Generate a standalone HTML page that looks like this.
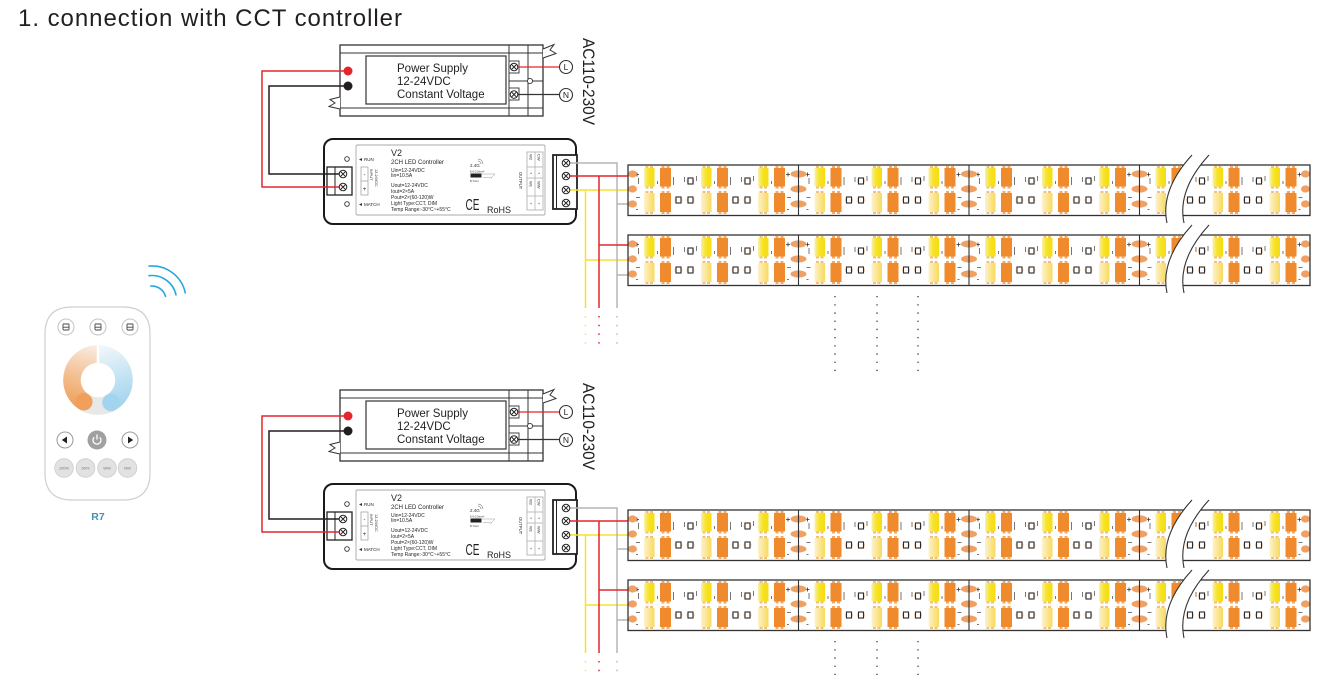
<!DOCTYPE html>
<html><head><meta charset="utf-8">
<style>
html,body{margin:0;padding:0;background:#fff;width:1325px;height:676px;overflow:hidden;}
svg{display:block;}
text{font-family:"Liberation Sans",Arial,sans-serif;}
</style></head><body>
<svg width="1325" height="676" viewBox="0 0 1325 676" xmlns="http://www.w3.org/2000/svg" overflow="hidden">
<defs>
 <linearGradient id="yT" x1="0" y1="0" x2="1" y2="0"><stop offset="0" stop-color="#faf0a8"/><stop offset="0.45" stop-color="#f7e326"/><stop offset="1" stop-color="#f5dc12"/></linearGradient>
 <linearGradient id="yB" x1="0" y1="0" x2="1" y2="0"><stop offset="0" stop-color="#fdf2cc"/><stop offset="1" stop-color="#f8da5c"/></linearGradient>
 <linearGradient id="og" gradientUnits="userSpaceOnUse" x1="98" y1="346" x2="80" y2="408"><stop offset="0" stop-color="#f9ede4"/><stop offset="0.5" stop-color="#f3c398"/><stop offset="1" stop-color="#f0a05c"/></linearGradient>
 <linearGradient id="bg" gradientUnits="userSpaceOnUse" x1="98" y1="346" x2="115" y2="408"><stop offset="0" stop-color="#f3f7fa"/><stop offset="0.5" stop-color="#c8e5f4"/><stop offset="1" stop-color="#a2d4ee"/></linearGradient>

 <g id="screw"><circle r="3.8" fill="#fff" stroke="#222" stroke-width="1"/><path d="M-2.5,-2.5 L2.5,2.5 M2.5,-2.5 L-2.5,2.5" stroke="#222" stroke-width="0.9"/></g>

 <g id="pair">
  <g fill="#f1c07a">
   <rect x="1.5" y="1" width="3" height="2.5"/><rect x="6" y="1" width="3" height="2.5"/>
   <rect x="1.5" y="21" width="3" height="2.5"/><rect x="6" y="21" width="3" height="2.5"/>
   <rect x="1.5" y="26" width="3" height="2.5"/><rect x="6" y="26" width="3" height="2.5"/>
   <rect x="1.5" y="46.5" width="3" height="2.5"/><rect x="6" y="46.5" width="3" height="2.5"/>
  </g>
  <g fill="#f3aa66">
   <rect x="17.5" y="1" width="3" height="2.5"/><rect x="22.5" y="1" width="3" height="2.5"/>
   <rect x="17.5" y="21" width="3" height="2.5"/><rect x="22.5" y="21" width="3" height="2.5"/>
   <rect x="17.5" y="26" width="3" height="2.5"/><rect x="22.5" y="26" width="3" height="2.5"/>
   <rect x="17.5" y="46.5" width="3" height="2.5"/><rect x="22.5" y="46.5" width="3" height="2.5"/>
  </g>
  <rect x="0" y="3" width="10.5" height="18.5" fill="url(#yT)"/>
  <rect x="0" y="28" width="10.5" height="19" fill="url(#yB)"/>
  <rect x="16" y="3" width="11" height="18.5" fill="#ef8a2d"/>
  <rect x="16" y="28" width="11" height="19" fill="#ef8a2d"/>
 </g>

 <g id="res"><ellipse cx="2.5" cy="3" rx="4" ry="3.6" fill="#f6c9a2"/><rect x="0" y="0" width="5" height="6" fill="#fff" stroke="#2a2a2a" stroke-width="1.1"/></g>

 <g id="seg">
  <use href="#pair" x="16"/><use href="#pair" x="73"/><use href="#pair" x="130"/>
  <use href="#res" x="60" y="13"/><use href="#res" x="117" y="13"/>
  <use href="#res" x="48" y="32"/><use href="#res" x="60" y="32"/>
  <use href="#res" x="105" y="32"/><use href="#res" x="117" y="32"/>
  <path d="M7,9.5h4M9,7.5v4M158,9.5h4M160,7.5v4" stroke="#333" stroke-width="0.8"/>
  <g fill="#777">
   <rect x="10" y="13" width="1" height="6"/><rect x="29" y="16" width="1" height="3"/><rect x="45" y="12" width="1" height="8"/>
   <rect x="56" y="12" width="1" height="5"/><rect x="68" y="11" width="1" height="5"/>
   <rect x="86" y="16" width="1" height="3"/><rect x="102" y="12" width="1" height="8"/>
   <rect x="113" y="12" width="1" height="5"/><rect x="125" y="11" width="1" height="5"/>
   <rect x="143" y="16" width="1" height="3"/>
   <rect x="8" y="32" width="4" height="1"/><rect x="8" y="44" width="2" height="1"/>
   <rect x="159" y="32" width="4" height="1"/><rect x="159" y="44" width="2" height="1"/>
  </g>
 </g>

 <g id="strip">
  <rect x="628" y="0" width="682" height="50.5" fill="#fff"/>
  <use href="#seg" x="628"/><use href="#seg" x="798.5"/><use href="#seg" x="969"/><use href="#seg" x="1139.5"/>
  <g fill="#efa062">
   <ellipse cx="798.5" cy="9" rx="8" ry="3.6"/><ellipse cx="798.5" cy="24" rx="8" ry="3.6"/><ellipse cx="798.5" cy="39" rx="8" ry="3.6"/>
   <ellipse cx="969" cy="9" rx="8" ry="3.6"/><ellipse cx="969" cy="24" rx="8" ry="3.6"/><ellipse cx="969" cy="39" rx="8" ry="3.6"/>
   <ellipse cx="1139.5" cy="9" rx="8" ry="3.6"/><ellipse cx="1139.5" cy="24" rx="8" ry="3.6"/><ellipse cx="1139.5" cy="39" rx="8" ry="3.6"/>
   <ellipse cx="632.5" cy="9" rx="4.5" ry="3.6"/><ellipse cx="632.5" cy="24" rx="4.5" ry="3.6"/><ellipse cx="632.5" cy="39" rx="4.5" ry="3.6"/>
   <ellipse cx="1305.5" cy="9" rx="4.5" ry="3.6"/><ellipse cx="1305.5" cy="24" rx="4.5" ry="3.6"/><ellipse cx="1305.5" cy="39" rx="4.5" ry="3.6"/>
  </g>
  <path d="M798.5,0V50.5M969,0V50.5M1139.5,0V50.5" stroke="#333" stroke-width="1.1"/>
  <rect x="628" y="0" width="682" height="50.5" fill="none" stroke="#333" stroke-width="1.3"/>
  <path d="M1192,-10 Q1160,25 1167,58 L1184,58 Q1177,25 1209,-10 Z" fill="#fff"/>
  <path d="M1192,-10 Q1160,25 1167,58 M1209,-10 Q1177,25 1184,58" fill="none" stroke="#333" stroke-width="1.1"/>
 </g>

 <g id="secShapes">
  <!-- Power supply -->
  <rect x="340" y="45" width="203" height="71" fill="#fff" stroke="#333" stroke-width="1.3"/>
  <path d="M340,53 H543 M340,108 H543 M509,45 V116 M528,45 V116 M509,81 H543" stroke="#333" stroke-width="1" fill="none"/>
  <rect x="366" y="56" width="140" height="48" fill="#fff" stroke="#333" stroke-width="1.2"/>
  <path d="M543,49 L554,44.5 L550,50 L556,53.5 L543,58" stroke="#333" stroke-width="1" fill="#fff"/>
  <path d="M340,97 L330,99.5 L335,103 L329,106.5 L340,109" stroke="#333" stroke-width="1" fill="#fff"/>
  <circle cx="348" cy="71" r="4.5" fill="#e3262e"/>
  <circle cx="348" cy="86" r="4.5" fill="#231f20"/>
  <circle cx="530" cy="81" r="2.6" fill="#fff" stroke="#333" stroke-width="0.9"/>
  <rect x="509" y="61" width="10" height="12" fill="#fff" stroke="#333" stroke-width="0.9"/>
  <rect x="509" y="88" width="10" height="12" fill="#fff" stroke="#333" stroke-width="0.9"/>
  <path d="M518,67 H559.5" stroke="#e3262e" stroke-width="1.3"/>
  <path d="M518,94.5 H559.5" stroke="#333" stroke-width="1.3"/>
  <use href="#screw" x="514" y="67"/>
  <use href="#screw" x="514" y="94.5"/>
  <circle cx="566" cy="67" r="6.5" fill="#fff" stroke="#333" stroke-width="1.1"/>
  <circle cx="566" cy="95" r="6.5" fill="#fff" stroke="#333" stroke-width="1.1"/>

  <!-- Controller -->
  <rect x="324" y="139" width="252" height="85" rx="9" fill="#fff" stroke="#1a1a1a" stroke-width="2"/>
  <rect x="356" y="145" width="189" height="70" rx="1.5" fill="#fff" stroke="#aaa" stroke-width="0.9"/>
  <rect x="327" y="167" width="25" height="28" fill="#fff" stroke="#222" stroke-width="1.3"/>
  <line x1="335" y1="167" x2="335" y2="195" stroke="#222" stroke-width="1"/>
  <circle cx="347" cy="159" r="2.3" fill="#fff" stroke="#333" stroke-width="0.9"/>
  <circle cx="347" cy="204" r="2.3" fill="#fff" stroke="#333" stroke-width="0.9"/>
  <path d="M359,159.5 L362,158 V161 Z M359,204.5 L362,203 V206 Z" fill="#333"/>
  <rect x="361" y="167" width="7" height="28" fill="#fff" stroke="#999" stroke-width="0.7"/>
  <line x1="361" y1="181" x2="368" y2="181" stroke="#999" stroke-width="0.7"/>
  <rect x="527" y="152" width="16" height="58" fill="#fff" stroke="#aaa" stroke-width="0.8"/>
  <path d="M535,152V210 M527,167H543 M527,178H543 M527,196H543" stroke="#aaa" stroke-width="0.7"/>
  <rect x="470.5" y="173.5" width="11" height="4" fill="#222"/>
  <path d="M482,174 L495,174 L491,178 M483,177.5 L492,178" stroke="#999" stroke-width="0.5" fill="none"/>
  <path d="M478,161 a3,3 0 0 1 3,3 M478,159 a5,5 0 0 1 5,5" stroke="#555" stroke-width="0.5" fill="none"/>
  <rect x="553" y="155" width="24" height="54" fill="#fff" stroke="#222" stroke-width="1.8"/>
  <line x1="556.5" y1="155" x2="556.5" y2="209" stroke="#222" stroke-width="1"/>

  <!-- wires PS to controller -->
  <path d="M348,71 H262 V187 H339" fill="none" stroke="#e3262e" stroke-width="1.5"/>
  <path d="M348,86 H269 V174 H339" fill="none" stroke="#231f20" stroke-width="1.5"/>
  <use href="#screw" x="343" y="174"/>
  <use href="#screw" x="343" y="187"/>

  <!-- output wires -->
  <path d="M570,190 H628 M585.5,190 V308 M585.5,260 H628" fill="none" stroke="#f5e22a" stroke-width="1.5"/>
  <path d="M570,163 H617 V308 M617,204 H628 M617,275 H628" fill="none" stroke="#b5b5b5" stroke-width="1.5"/>
  <path d="M570,176 H628 M599,176 V308 M599,245 H628" fill="none" stroke="#e3262e" stroke-width="1.5"/>
  <use href="#screw" x="566" y="163"/>
  <use href="#screw" x="566" y="176"/>
  <use href="#screw" x="566" y="190"/>
  <use href="#screw" x="566" y="203"/>

  <!-- strips -->
  <use href="#strip" y="165"/>
  <use href="#strip" y="235"/>
 </g>
</defs>

<rect x="0" y="0" width="1325" height="676" fill="#fff"/>

<!-- Title -->
<text x="18" y="26" font-size="24" textLength="384" lengthAdjust="spacing" fill="#231f20">1. connection with CCT controller</text>

<!-- Sections -->
<use href="#secShapes"/>
<use href="#secShapes" y="345"/>

<!-- wire end dots + dotted continuation (top) -->
<line x1="585.5" y1="316" x2="585.5" y2="345" stroke="#f3e06a" stroke-width="1.5" stroke-dasharray="1.5 7.2"/>
<line x1="599" y1="316" x2="599" y2="345" stroke="#e3262e" stroke-width="1.5" stroke-dasharray="1.5 7.2"/>
<line x1="617" y1="316" x2="617" y2="345" stroke="#bbb" stroke-width="1.5" stroke-dasharray="1.5 7.2"/>
<g stroke="#444" stroke-width="1.4" stroke-dasharray="1.3 6.9">
 <line x1="835" y1="296" x2="835" y2="372"/>
 <line x1="877" y1="296" x2="877" y2="372"/>
 <line x1="918" y1="296" x2="918" y2="372"/>
</g>
<!-- wire end dots + dotted continuation (bottom) -->
<line x1="585.5" y1="661" x2="585.5" y2="675" stroke="#f3e06a" stroke-width="1.5" stroke-dasharray="1.5 7.2"/>
<line x1="599" y1="661" x2="599" y2="675" stroke="#e3262e" stroke-width="1.5" stroke-dasharray="1.5 7.2"/>
<line x1="617" y1="661" x2="617" y2="675" stroke="#bbb" stroke-width="1.5" stroke-dasharray="1.5 7.2"/>
<g stroke="#444" stroke-width="1.4" stroke-dasharray="1.3 6.9">
 <line x1="835" y1="641" x2="835" y2="675"/>
 <line x1="877" y1="641" x2="877" y2="675"/>
 <line x1="918" y1="641" x2="918" y2="675"/>
</g>

<!-- Section texts (top) -->
<g fill="#231f20">
 <text x="397" y="72" font-size="11.5">Power Supply</text>
 <text x="397" y="85" font-size="11.5">12-24VDC</text>
 <text x="397" y="98" font-size="11.5">Constant Voltage</text>
 <text x="566" y="70.2" font-size="8.5" text-anchor="middle">L</text>
 <text x="566" y="98.2" font-size="8.5" text-anchor="middle">N</text>
 <text transform="translate(583,38) rotate(90)" font-size="16.5" textLength="87" lengthAdjust="spacingAndGlyphs">AC110-230V</text>
 <text x="364" y="161" font-size="4.5">RUN</text>
 <text x="364" y="206" font-size="4.5">MATCH</text>
 <text x="364.5" y="176.5" font-size="6" text-anchor="middle">-</text>
 <text x="364.5" y="191" font-size="6" text-anchor="middle">+</text>
 <text transform="translate(370,169) rotate(90)" font-size="3.8">INPUT</text>
 <text transform="translate(375,169) rotate(90)" font-size="3.8">12-24VDC</text>
 <text x="391" y="156" font-size="9">V2</text>
 <text x="391" y="164" font-size="6">2CH LED Controller</text>
 <g font-size="5">
  <text x="391" y="172">Uin=12-24VDC</text>
  <text x="391" y="177">Iin=10.5A</text>
  <text x="391" y="187">Uout=12-24VDC</text>
  <text x="391" y="193">Iout=2×5A</text>
  <text x="391" y="199">Pout=2×(60-120)W</text>
  <text x="391" y="205">Light Type:CCT, DIM</text>
  <text x="391" y="211">Temp Range:-30°C~+55°C</text>
 </g>
 <text x="470" y="167" font-size="4.5">2.4G</text>
 <text x="470" y="172.5" font-size="2.8">6.0-2.5mm²</text>
 <text x="470" y="182" font-size="2.8">8-7mm</text>
 <text x="465.5" y="210" font-size="16" textLength="14" lengthAdjust="spacingAndGlyphs">CE</text>
 <text x="487" y="213" font-size="9">RoHS</text>
 <text transform="translate(519,172) rotate(90)" font-size="4.2">OUTPUT</text>
 <g font-size="4">
  <text transform="translate(529.5,154) rotate(90)">W2</text>
  <text transform="translate(537.5,154) rotate(90)">CW</text>
  <text x="531" y="174.5" text-anchor="middle">+</text>
  <text x="539" y="174.5" text-anchor="middle">+</text>
  <text transform="translate(529.5,181) rotate(90)">W1</text>
  <text transform="translate(537.5,181) rotate(90)">WW</text>
  <text x="531" y="205" text-anchor="middle">+</text>
  <text x="539" y="205" text-anchor="middle">+</text>
 </g>
</g>

<!-- Section texts (bottom) -->
<g fill="#231f20" transform="translate(0,345)">
 <text x="397" y="72" font-size="11.5">Power Supply</text>
 <text x="397" y="85" font-size="11.5">12-24VDC</text>
 <text x="397" y="98" font-size="11.5">Constant Voltage</text>
 <text x="566" y="70.2" font-size="8.5" text-anchor="middle">L</text>
 <text x="566" y="98.2" font-size="8.5" text-anchor="middle">N</text>
 <text transform="translate(583,38) rotate(90)" font-size="16.5" textLength="87" lengthAdjust="spacingAndGlyphs">AC110-230V</text>
 <text x="364" y="161" font-size="4.5">RUN</text>
 <text x="364" y="206" font-size="4.5">MATCH</text>
 <text x="364.5" y="176.5" font-size="6" text-anchor="middle">-</text>
 <text x="364.5" y="191" font-size="6" text-anchor="middle">+</text>
 <text transform="translate(370,169) rotate(90)" font-size="3.8">INPUT</text>
 <text transform="translate(375,169) rotate(90)" font-size="3.8">12-24VDC</text>
 <text x="391" y="156" font-size="9">V2</text>
 <text x="391" y="164" font-size="6">2CH LED Controller</text>
 <g font-size="5">
  <text x="391" y="172">Uin=12-24VDC</text>
  <text x="391" y="177">Iin=10.5A</text>
  <text x="391" y="187">Uout=12-24VDC</text>
  <text x="391" y="193">Iout=2×5A</text>
  <text x="391" y="199">Pout=2×(60-120)W</text>
  <text x="391" y="205">Light Type:CCT, DIM</text>
  <text x="391" y="211">Temp Range:-30°C~+55°C</text>
 </g>
 <text x="470" y="167" font-size="4.5">2.4G</text>
 <text x="470" y="172.5" font-size="2.8">6.0-2.5mm²</text>
 <text x="470" y="182" font-size="2.8">8-7mm</text>
 <text x="465.5" y="210" font-size="16" textLength="14" lengthAdjust="spacingAndGlyphs">CE</text>
 <text x="487" y="213" font-size="9">RoHS</text>
 <text transform="translate(519,172) rotate(90)" font-size="4.2">OUTPUT</text>
 <g font-size="4">
  <text transform="translate(529.5,154) rotate(90)">W2</text>
  <text transform="translate(537.5,154) rotate(90)">CW</text>
  <text x="531" y="174.5" text-anchor="middle">+</text>
  <text x="539" y="174.5" text-anchor="middle">+</text>
  <text transform="translate(529.5,181) rotate(90)">W1</text>
  <text transform="translate(537.5,181) rotate(90)">WW</text>
  <text x="531" y="205" text-anchor="middle">+</text>
  <text x="539" y="205" text-anchor="middle">+</text>
 </g>
</g>

<!-- Remote R7 -->
<g fill="none" stroke="#29a8e0" stroke-width="1.6" stroke-linecap="round">
 <path d="M149,266.1 A34,34 0 0 1 185.3,292.9"/>
 <path d="M149,275.7 A24.5,24.5 0 0 1 176,294.9"/>
 <path d="M150.8,286.1 A14,14 0 0 1 165.5,296.4"/>
</g>
<path d="M72,307 H123 Q150,307 150,334 V473 Q150,500 123,500 H72 Q45,500 45,473 V334 Q45,307 72,307 Z" fill="#fff" stroke="#cfcfcf" stroke-width="1.2"/>
<g stroke="#c4c4c4" stroke-width="1" fill="#fff">
 <circle cx="66" cy="327" r="8"/><circle cx="98" cy="327" r="8"/><circle cx="130" cy="327" r="8"/>
</g>
<g fill="none" stroke="#444" stroke-width="0.9">
 <rect x="63" y="324" width="6" height="6" rx="0.6"/><path d="M63,327.2 H69"/>
 <rect x="95" y="324" width="6" height="6" rx="0.6"/><path d="M95,327.2 H101"/>
 <rect x="127" y="324" width="6" height="6" rx="0.6"/><path d="M127,327.2 H133"/>
</g>
<circle cx="98" cy="380" r="26" fill="none" stroke="#e8e8e8" stroke-width="17.5"/>
<path d="M98,354 A26,26 0 0 0 83.8,401.8" fill="none" stroke="url(#og)" stroke-width="17.5"/>
<circle cx="83.8" cy="401.8" r="8.75" fill="#f0a05c"/>
<path d="M98,354 A26,26 0 0 1 111,402.5" fill="none" stroke="url(#bg)" stroke-width="17.5"/>
<circle cx="111" cy="402.5" r="8.75" fill="#a2d4ee"/>
<line x1="98" y1="344" x2="98" y2="364" stroke="#fff" stroke-width="2.5"/>

<circle cx="65" cy="440" r="8" fill="#fff" stroke="#9a9a9a" stroke-width="1"/>
<path d="M61.8,440 L67,436.5 V443.5 Z" fill="#222"/>
<circle cx="130" cy="440" r="8" fill="#fff" stroke="#9a9a9a" stroke-width="1"/>
<path d="M133.2,440 L128,436.5 V443.5 Z" fill="#222"/>
<circle cx="97" cy="440" r="9.5" fill="#a0a0a0"/>
<path d="M94.2,437.3 A4,4 0 1 0 99.8,437.3" fill="none" stroke="#fff" stroke-width="1.3"/>
<line x1="97" y1="434.5" x2="97" y2="439.5" stroke="#fff" stroke-width="1.3"/>

<g fill="#e2e2e2" stroke="#cdcdcd" stroke-width="0.8">
 <circle cx="64" cy="468" r="9.3"/><circle cx="85.5" cy="468" r="9.3"/><circle cx="107" cy="468" r="9.3"/><circle cx="127.5" cy="468" r="9.3"/>
</g>
<g font-size="4" fill="#777" text-anchor="middle">
 <text x="64" y="469.5">100%</text><text x="85.5" y="469.5">50%</text><text x="107" y="469.5">WW</text><text x="127.5" y="469.5">NW</text>
</g>
<text x="98" y="520" font-size="10.5" font-weight="bold" fill="#4a8fb0" text-anchor="middle">R7</text>
</svg>
</body></html>
